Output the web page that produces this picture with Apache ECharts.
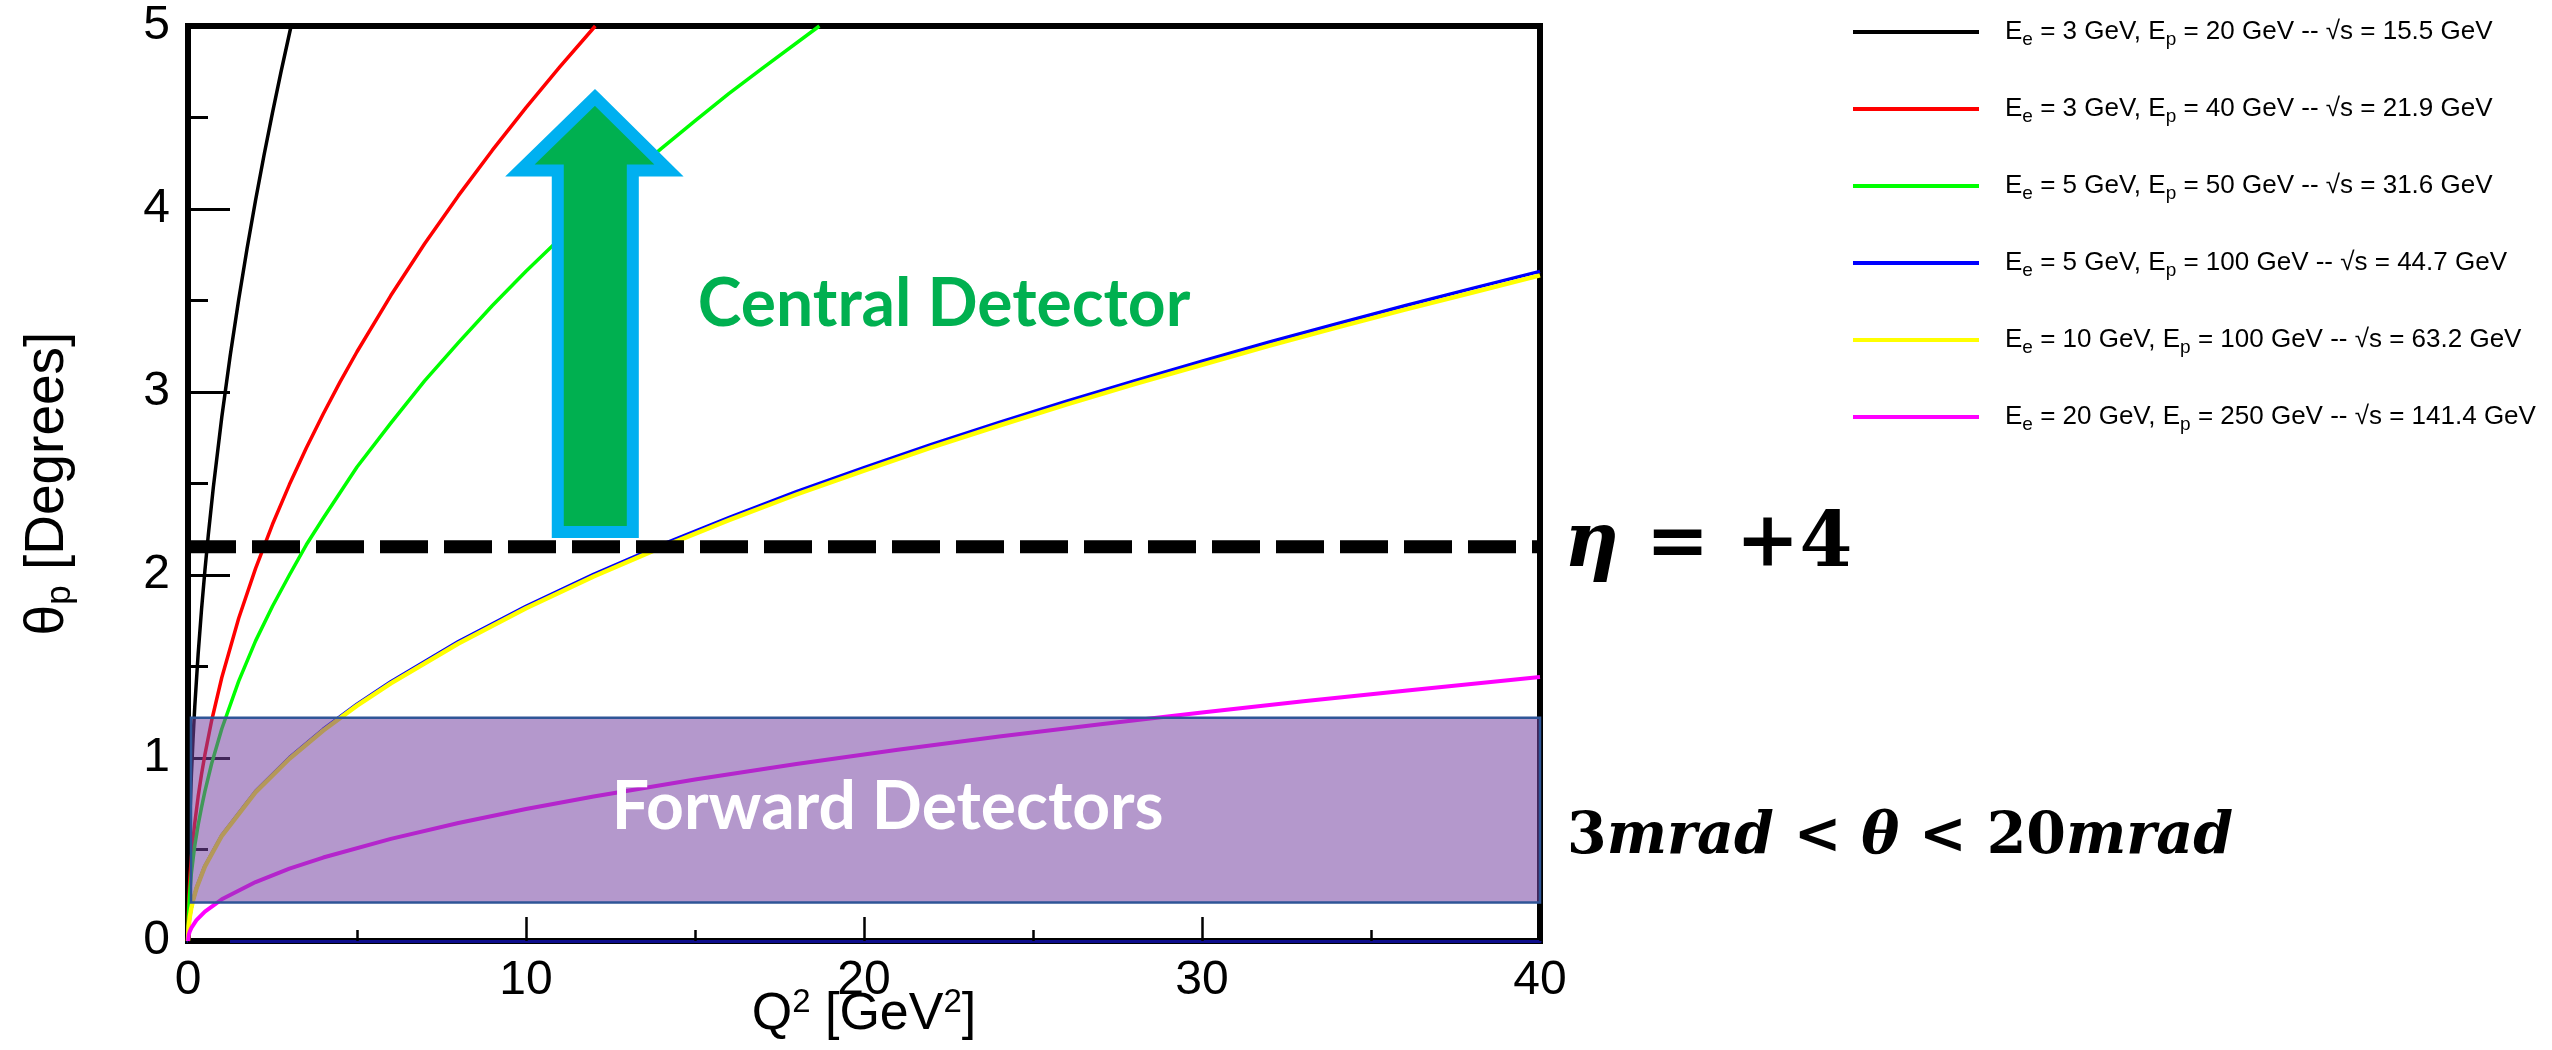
<!DOCTYPE html>
<html><head><meta charset="utf-8">
<script src="https://cdn.jsdelivr.net/npm/echarts@6/dist/echarts.min.js"></script>
<style>html,body{margin:0;padding:0;background:#fff}#c{width:2552px;height:1050px}</style>
</head><body><div id="c"></div>
<script>
// ---- legend / beam settings ----
const beamEe = [3, 3, 5, 5, 10, 20];
const beamEp = [20, 40, 50, 100, 100, 250];
const sqrtS = ['15.5', '21.9', '31.6', '44.7', '63.2', '141.4'];
const colors = ['#000000', '#ff0000', '#00ff00', '#0000ff', '#ffff00', '#ff00ff'];
const widths = [3.5, 3.5, 3.5, 3.5, 4.5, 4];

// ---- curves (Q^2 in GeV^2, theta_p in degrees) ----
const q2Black = [0, 0.01, 0.02, 0.03, 0.04, 0.06, 0.1, 0.15, 0.2, 0.3, 0.4, 0.5, 0.6, 0.75, 1, 1.25, 1.5, 1.75, 2, 2.25, 2.5, 2.75, 3.05];
const thBlack = [0, 0.286, 0.405, 0.496, 0.573, 0.701, 0.905, 1.109, 1.28, 1.568, 1.811, 2.024, 2.218, 2.48, 2.863, 3.201, 3.506, 3.787, 4.049, 4.295, 4.527, 4.748, 5.0];

const q2Red = [0, 0.01, 0.02, 0.03, 0.05, 0.07, 0.1, 0.15, 0.2, 0.3, 0.4, 0.5, 0.7, 1, 1.5, 2, 2.5, 3, 3.5, 4, 4.5, 5, 6, 7, 8, 9, 10, 11, 12.05];
const thRed = [0, 0.144, 0.204, 0.249, 0.322, 0.381, 0.455, 0.558, 0.644, 0.789, 0.911, 1.018, 1.205, 1.44, 1.764, 2.036, 2.277, 2.494, 2.694, 2.88, 3.055, 3.22, 3.527, 3.81, 4.073, 4.32, 4.554, 4.776, 5.0];

const q2Green = [0, 0.01, 0.02, 0.03, 0.05, 0.07, 0.1, 0.15, 0.2, 0.3, 0.4, 0.5, 0.7, 1, 1.5, 2, 2.5, 3, 3.5, 4, 5, 6, 7, 8, 9, 10, 11, 12, 13, 14, 15, 16, 17, 18.68];
const thGreen = [0, 0.116, 0.164, 0.2, 0.26, 0.306, 0.37, 0.448, 0.52, 0.634, 0.73, 0.818, 0.97, 1.16, 1.42, 1.64, 1.829, 2.0, 2.165, 2.31, 2.59, 2.83, 3.061, 3.27, 3.471, 3.66, 3.837, 4.01, 4.172, 4.33, 4.481, 4.63, 4.77, 5.0];

const q2Blue = [0, 0.02, 0.05, 0.1, 0.15, 0.25, 0.5, 1, 2, 3, 4, 5, 6, 8, 10, 12, 14, 16, 18, 20, 22, 24, 26, 28, 30, 32, 34, 36, 38, 40];
const thBlue = [0, 0.082, 0.13, 0.183, 0.224, 0.29, 0.41, 0.578, 0.818, 1.002, 1.157, 1.294, 1.417, 1.636, 1.829, 2.004, 2.164, 2.314, 2.455, 2.587, 2.713, 2.834, 2.95, 3.061, 3.168, 3.273, 3.373, 3.471, 3.566, 3.659];

const q2Yellow = [0, 0.02, 0.05, 0.1, 0.15, 0.25, 0.5, 1, 2, 3, 4, 5, 6, 8, 10, 12, 14, 16, 18, 20, 22, 24, 26, 28, 30, 32, 34, 36, 38, 40];
const thYellow = [0, 0.081, 0.129, 0.182, 0.223, 0.288, 0.407, 0.575, 0.813, 0.996, 1.15, 1.286, 1.408, 1.626, 1.818, 1.992, 2.151, 2.30, 2.44, 2.571, 2.697, 2.817, 2.932, 3.043, 3.149, 3.253, 3.353, 3.45, 3.544, 3.637];

const q2Magenta = [0, 0.02, 0.05, 0.1, 0.25, 0.5, 1, 2, 3, 4, 6, 8, 10, 12, 15, 18, 21, 24, 27, 30, 33, 36, 40];
const thMagenta = [0, 0.032, 0.051, 0.072, 0.114, 0.161, 0.228, 0.322, 0.395, 0.456, 0.558, 0.645, 0.721, 0.79, 0.883, 0.967, 1.045, 1.117, 1.185, 1.249, 1.31, 1.368, 1.442];

// ---- annotations ----
const etaTheta = 2.155;              // eta = +4 line
const forwardBand = [0.21, 1.22];    // forward detector acceptance band
const arrowQ2 = [12.04, 14.23, 13.16, 13.16, 10.94, 10.94, 9.82];
const arrowTheta = [4.61, 4.21, 4.21, 2.235, 2.235, 4.21, 4.21];

const curveQ2 = [q2Black, q2Red, q2Green, q2Blue, q2Yellow, q2Magenta];
const curveTh = [thBlack, thRed, thGreen, thBlue, thYellow, thMagenta];

const names = beamEe.map((e, i) => 'Ee = ' + e + ' GeV, Ep = ' + beamEp[i] + ' GeV -- √s = ' + sqrtS[i] + ' GeV');
const richNames = beamEe.map((e, i) => '{g| }{m|E}{s|e}{m| = ' + e + ' GeV, E}{s|p}{m| = ' + beamEp[i] + ' GeV -- √s = ' + sqrtS[i] + ' GeV}');

const FONT = 'Liberation Sans';
const MATH = 'DejaVu Serif';

const series = names.map((n, i) => ({
  type: 'line', name: n, z: 2,
  data: curveQ2[i].map((q, k) => [q, curveTh[i][k]]),
  showSymbol: false, symbol: 'none', silent: true,
  lineStyle: { color: colors[i], width: widths[i], join: 'round' },
  itemStyle: { color: colors[i] }
}));

series.push({
  type: 'custom', name: 'band', z: 3, silent: true,
  data: [[0, forwardBand[0], 40, forwardBand[1]]],
  encode: { x: [0, 2], y: [1, 3] },
  renderItem: (params, api) => {
    const p1 = api.coord([api.value(0), api.value(3)]);
    const p2 = api.coord([api.value(2), api.value(1)]);
    return { type: 'rect', shape: { x: p1[0] + 3, y: p1[1], width: p2[0] - p1[0] - 3, height: p2[1] - p1[1] },
      style: { fill: 'rgba(119,67,163,0.55)', stroke: '#2f5597', lineWidth: 2.5 } };
  }
});

series.push({
  type: 'line', name: 'eta', z: 4, silent: true, symbol: 'none', showSymbol: false,
  data: [[0, etaTheta], [40, etaTheta]],
  lineStyle: { color: '#000', width: 13, type: [48, 16], cap: 'butt' }
});

series.push({
  type: 'custom', name: 'arrow', z: 5, silent: true,
  data: [[arrowQ2[0], arrowTheta[0]]],
  renderItem: (params, api) => {
    const pts = arrowQ2.map((q, k) => api.coord([q, arrowTheta[k]]));
    return { type: 'polygon', shape: { points: pts },
      style: { fill: '#00b050', stroke: '#00b0f0', lineWidth: 12, lineJoin: 'miter', miterLimit: 10 } };
  }
});

const chart = echarts.init(document.getElementById('c'), null, { renderer: 'canvas' });
const option = {
  animation: false,
  backgroundColor: '#fff',
  grid: { left: 188, right: 1012, top: 26, bottom: 109, show: true, borderColor: '#000', borderWidth: 6, outerBoundsMode: 'none', containLabel: false },
  legend: {
    data: names, orient: 'vertical', left: 1848, top: 14, itemWidth: 126, itemHeight: 4, itemGap: 47,
    icon: 'rect', selectedMode: false,
    formatter: (name) => richNames[names.indexOf(name)],
    textStyle: {
      color: '#000', fontFamily: FONT,
      rich: {
        g: { width: 21, fontSize: 26, lineHeight: 34 },
        m: { fontSize: 26, lineHeight: 34, fontFamily: FONT, color: '#000' },
        s: { fontSize: 19, lineHeight: 20, verticalAlign: 'bottom', fontFamily: FONT, color: '#000' }
      }
    }
  },
  xAxis: {
    type: 'value', min: 0, max: 40, interval: 10,
    name: 'Q{sup|2} [GeV{sup|2}]', nameLocation: 'middle', nameGap: 45, nameMoveOverlap: false,
    nameTextStyle: { color: '#000', fontFamily: FONT, fontSize: 52, lineHeight: 58,
      rich: { sup: { fontSize: 33, lineHeight: 33, verticalAlign: 'top', fontFamily: FONT, color: '#000' } } },
    axisLine: { show: true, onZero: false, lineStyle: { color: '#0d0d8c', width: 3 } },
    axisTick: { show: true, inside: true, length: 24, lineStyle: { color: '#000', width: 2.5 } },
    minorTick: { show: true, splitNumber: 2, length: 11, lineStyle: { color: '#000', width: 2.5 } },
    axisLabel: { color: '#000', fontFamily: FONT, fontSize: 48, margin: 16 },
    splitLine: { show: false }
  },
  yAxis: {
    type: 'value', min: 0, max: 5, interval: 1,
    name: 'θ{sub|p} [Degrees]', nameLocation: 'middle', nameGap: 110, nameMoveOverlap: false,
    nameTextStyle: { color: '#000', fontFamily: FONT, fontSize: 55, lineHeight: 60,
      rich: { sub: { fontSize: 35, lineHeight: 35, verticalAlign: 'bottom', fontFamily: FONT, color: '#000' } } },
    axisLine: { show: true, lineStyle: { color: '#000', width: 6 } },
    axisTick: { show: true, inside: true, length: 42, lineStyle: { color: '#000', width: 3 } },
    minorTick: { show: true, splitNumber: 2, length: 20, lineStyle: { color: '#000', width: 3 } },
    axisLabel: { color: '#000', fontFamily: FONT, fontSize: 48, margin: 18 },
    splitLine: { show: false }
  },
  series: series
};
chart.setOption(option);

const pc = chart.convertToPixel({ gridIndex: 0 }, [22.37, 3.475]);
const pf = chart.convertToPixel({ gridIndex: 0 }, [20.7, 0.727]);
const pe = chart.convertToPixel({ gridIndex: 0 }, [40, etaTheta]);
const pm = chart.convertToPixel({ gridIndex: 0 }, [40, 0.56]);

chart.setOption({
  graphic: [
    { type: 'text', x: pc[0], y: pc[1], z: 100, silent: true,
      style: { text: 'Central Detector', fill: '#00b050', fontFamily: 'Lato', fontWeight: 'bold', fontSize: 66, align: 'center', verticalAlign: 'middle' } },
    { type: 'text', x: pf[0], y: pf[1], z: 100, silent: true,
      style: { text: 'Forward Detectors', fill: '#ffffff', fontFamily: 'Lato', fontWeight: 'bold', fontSize: 66, align: 'center', verticalAlign: 'middle' } },
    { type: 'text', x: pe[0] + 24, y: pe[1], z: 100, silent: true,
      style: { text: '{i|η}{n| = +4}', fill: '#000', align: 'left', verticalAlign: 'middle',
        rich: {
          n: { fontFamily: MATH, fontWeight: 'bold', fontSize: 76, fill: '#000' },
          i: { fontFamily: MATH, fontWeight: 'bold', fontStyle: 'italic', fontSize: 76, fill: '#000' }
        } } },
    { type: 'text', x: pm[0] + 27, y: pm[1], z: 100, silent: true,
      style: { text: '{n|3}{i|mrad}{n| < }{i|θ}{n| < 20}{i|mrad}', fill: '#000', align: 'left', verticalAlign: 'middle',
        rich: {
          n: { fontFamily: MATH, fontWeight: 'bold', fontSize: 57, fill: '#000' },
          i: { fontFamily: MATH, fontWeight: 'bold', fontStyle: 'italic', fontSize: 57, fill: '#000' }
        } } }
  ]
});
</script>
</body></html>
